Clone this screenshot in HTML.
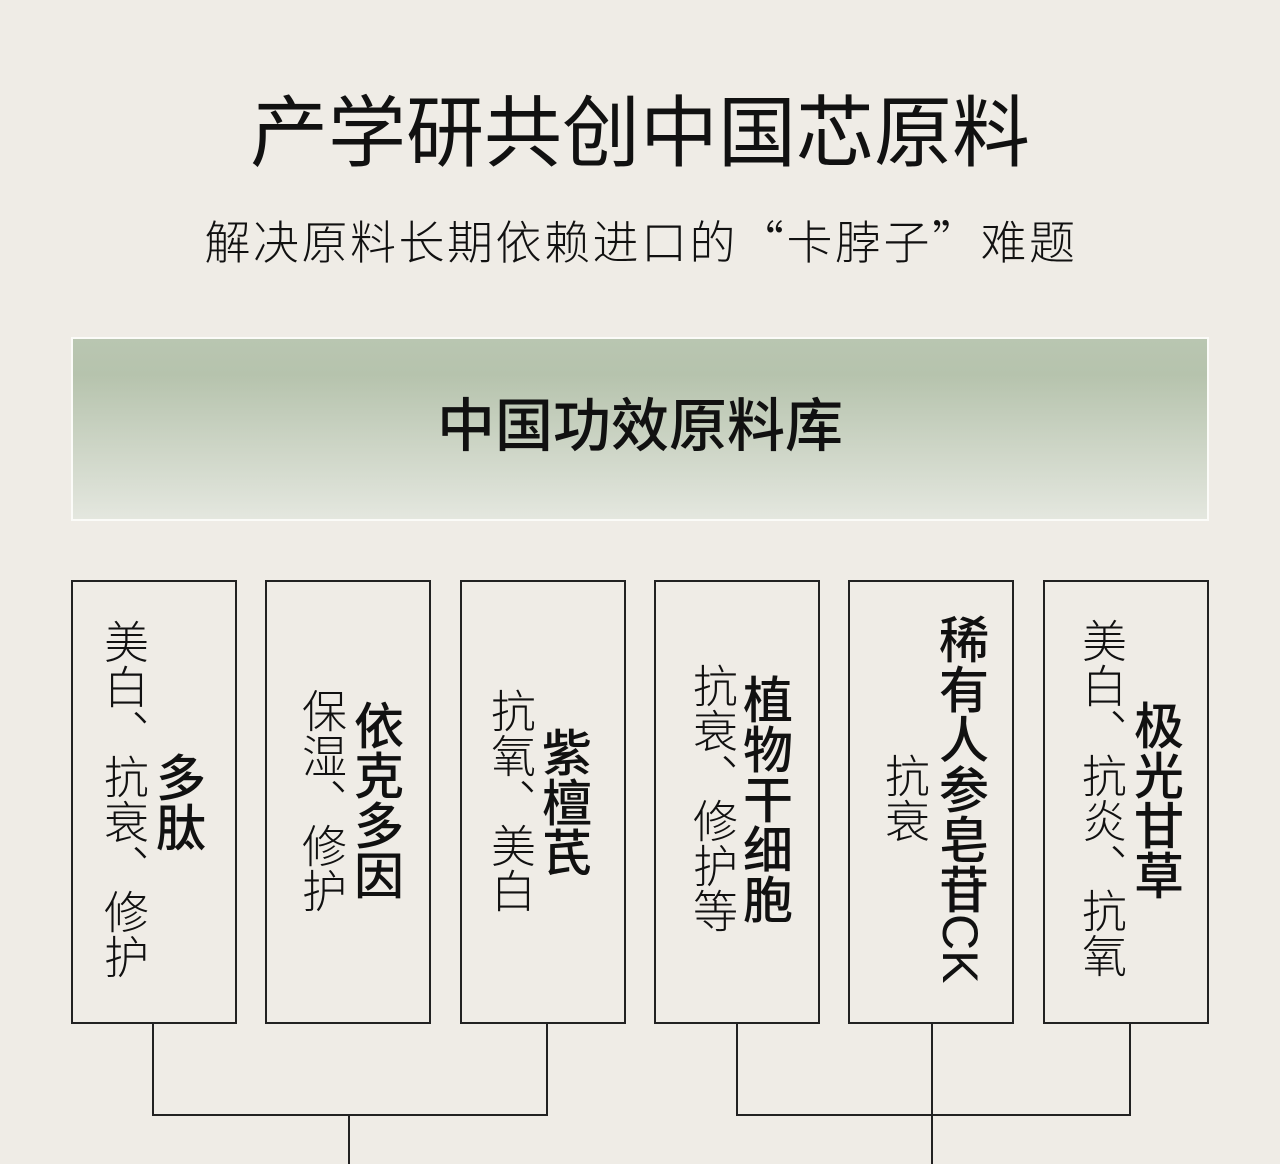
<!DOCTYPE html>
<html><head><meta charset="utf-8"><style>
html,body{margin:0;padding:0;}
body{width:1280px;height:1164px;background:#efece6;position:relative;overflow:hidden;font-family:"Liberation Sans","Noto Sans CJK SC",sans-serif;color:#111;}
.t{position:absolute;left:0;width:1280px;text-align:center;white-space:nowrap;}
.banner{position:absolute;left:71px;top:337px;width:1134px;height:180px;border:2px solid #fbfbf8;background:linear-gradient(#b9c6b1 0%,#b6c3ad 20%,#e4e7df 100%);}
.box{position:absolute;top:580px;width:162px;height:440px;border:2px solid #222;}
.v{position:absolute;writing-mode:vertical-rl;text-orientation:mixed;white-space:nowrap;line-height:1;}
.s{font-size:45px;font-weight:300;width:45px;}
.b{font-size:50px;font-weight:500;width:50px;}
.l{position:absolute;background:#222;}
</style></head><body>
<div class="t" style="top:88px;font-size:78px;font-weight:400;line-height:90px;">产学研共创中国芯原料</div>
<div class="t" style="top:212px;font-size:46px;font-weight:300;line-height:56px;letter-spacing:2.5px;padding-left:2px;box-sizing:border-box;font-family:'Noto Sans CJK SC',sans-serif;">解决原料长期依赖进口的“卡脖子”难题</div>
<div class="banner"></div>
<div class="t" style="top:394px;font-size:58px;font-weight:500;line-height:66px;">中国功效原料库</div>

<div class="box" style="left:71px"></div>
<div class="box" style="left:265px"></div>
<div class="box" style="left:460px"></div>
<div class="box" style="left:654px"></div>
<div class="box" style="left:848px"></div>
<div class="box" style="left:1043px"></div>

<div class="v s" style="left:100px;top:619px">美白、抗衰、修护</div>
<div class="v b" style="left:152px;top:752px">多肽</div>

<div class="v s" style="left:298px;top:688px">保湿、修护</div>
<div class="v b" style="left:350px;top:700px">依克多因</div>

<div class="v s" style="left:487px;top:688px">抗氧、美白</div>
<div class="v b" style="left:538px;top:727px">紫檀芪</div>

<div class="v s" style="left:689px;top:663px">抗衰、修护等</div>
<div class="v b" style="left:739px;top:674px">植物干细胞</div>

<div class="v s" style="left:881px;top:753px">抗衰</div>
<div class="v b" style="left:935px;top:614px">稀有人参皂苷CK</div>

<div class="v s" style="left:1078px;top:618px">美白、抗炎、抗氧</div>
<div class="v b" style="left:1130px;top:700px">极光甘草</div>

<div class="l" style="left:152px;top:1022px;width:2px;height:94px"></div>
<div class="l" style="left:546px;top:1022px;width:2px;height:94px"></div>
<div class="l" style="left:152px;top:1114px;width:396px;height:2px"></div>
<div class="l" style="left:348px;top:1114px;width:2px;height:50px"></div>

<div class="l" style="left:736px;top:1022px;width:2px;height:94px"></div>
<div class="l" style="left:931px;top:1022px;width:2px;height:142px"></div>
<div class="l" style="left:1129px;top:1022px;width:2px;height:94px"></div>
<div class="l" style="left:736px;top:1114px;width:395px;height:2px"></div>
</body></html>
